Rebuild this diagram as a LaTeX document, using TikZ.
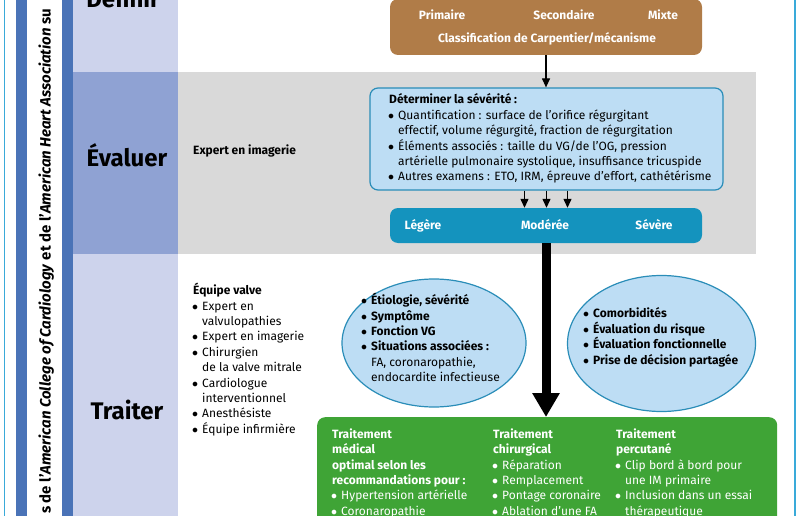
\documentclass[tikz,border=0pt]{standalone}
\usepackage{fontspec}
\setmainfont{Fira Sans}
\usepackage{tikz}
\usetikzlibrary{shapes.geometric, arrows.meta, positioning}
\definecolor{lavlight}{HTML}{CDD3EC}
\definecolor{lavdark}{HTML}{8FA2D3}
\definecolor{barblue}{HTML}{4A73B7}
\definecolor{cyanline}{HTML}{3AAAD9}
\definecolor{grayrow}{HTML}{D9D9D9}
\definecolor{ccbrown}{HTML}{B07C48}
\definecolor{lightblue}{HTML}{BDDDF4}
\definecolor{tealborder}{HTML}{2A8DB8}
\definecolor{tealbar}{HTML}{1493BE}
\definecolor{ccgreen}{HTML}{3FA436}
\newcommand{\bul}{\makebox[9pt][l]{\hspace{-1pt}$\bullet$}}
\newcommand{\ind}{\hspace*{9pt}}
\tikzstyle{phase} = [font=\fontsize{24}{26}\selectfont\bfseries, inner sep=0pt]
\tikzstyle{box} = [rectangle, rounded corners=8pt, minimum width=312pt, inner sep=0pt]
\tikzstyle{wtext} = [text=white, font=\fontsize{12}{15.4}\selectfont\bfseries, inner sep=0pt, anchor=base]
\tikzstyle{btext} = [align=left, anchor=north west, inner sep=0pt, font=\fontsize{12}{15.4}\selectfont]
\tikzstyle{bubble} = [ellipse, draw=tealborder, line width=1.2pt, fill=lightblue, inner sep=0pt]
\tikzstyle{arrow} = [line width=1.2pt, -{Triangle[width=8pt,length=9pt]}]
\tikzstyle{bigarrow} = [line width=9pt, -{Triangle[width=26pt,length=24pt]}]

\begin{document}
\begin{tikzpicture}[x=1pt, y=-1pt, node distance=8pt]
	\useasboundingbox (0,0) rectangle (800,516);
	\clip (0,0) rectangle (800,516);

	\fill[lavlight] (73,0) rectangle (178,516);
	\fill[lavdark] (73,72) rectangle (178,254);
	\fill[grayrow] (178,72) rectangle (756,254);
	\fill[barblue] (16,0) rectangle (27,516);
	\fill[barblue] (62,0) rectangle (73,516);
	\draw[cyanline, line width=1.2pt] (4.5,0) -- (4.5,516);
	\draw[cyanline, line width=1.2pt] (795,0) -- (795,516);

	\node (definir) [phase, anchor=base] at (123,8) {Définir};
	\node (evaluer) [phase] at (127,155) {Évaluer};
	\node (traiter) [phase] at (127,410) {Traiter};
	\node (guideline) [rotate=90, anchor=base west, inner sep=0pt, font=\fontsize{15}{17}\selectfont\bfseries] at (50.5,514) {s de l'\textit{American College of Cardiology} et de l'\textit{American Heart Association} su};

	\node (classif) [box, fill=ccbrown, minimum height=56pt] at (546,27) {};
	\node (primaire) [wtext] at (442,19.5) {Primaire};
	\node (secondaire) [wtext] at (564,19.5) {Secondaire};
	\node (mixte) [wtext] at (663,19.5) {Mixte};
	\node (carpentier) [wtext] at (547,43) {Classification de Carpentier/mécanisme};

	\node (imagerie) [anchor=west, inner sep=0pt, font=\fontsize{12}{15.4}\selectfont\bfseries] at (193,151) {Expert en imagerie};
	\node (severite) [box, draw=tealborder, line width=1.2pt, fill=lightblue, minimum width=353pt, minimum height=102pt] at (546.5,139) {};
	\node (severitetxt) [btext] at (389,93.6) {\textbf{Déterminer la sévérité :}\\
		\bul Quantification : surface de l'orifice régurgitant\\
		\ind effectif, volume régurgité, fraction de régurgitation\\
		\bul Éléments associés : taille du VG/de l'OG, pression\\
		\ind artérielle pulmonaire systolique, insuffisance tricuspide\\
		\bul Autres examens : ETO, IRM, épreuve d'effort, cathétérisme};

	\node (grade) [box, fill=tealbar, minimum height=35pt] at (546,225.5) {};
	\node (legere) [wtext] at (423,229.5) {Légère};
	\node (moderee) [wtext] at (545,229.5) {Modérée};
	\node (severe) [wtext] at (654,229.5) {Sévère};

	\node (equipe) [btext] at (193,283) {\textbf{Équipe valve}\\
		\bul Expert en\\
		\ind valvulopathies\\
		\bul Expert en imagerie\\
		\bul Chirurgien\\
		\ind de la valve mitrale\\
		\bul Cardiologue\\
		\ind interventionnel\\
		\bul Anesthésiste\\
		\bul Équipe infirmière};

	\node (bilan) [bubble, minimum width=184pt, minimum height=128pt] at (434,343) {};
	\node (bilantxt) [btext] at (362,293) {\bul\textbf{Étiologie, sévérité}\\
		\bul\textbf{Symptôme}\\
		\bul\textbf{Fonction VG}\\
		\bul\textbf{Situations associées :}\\
		\ind FA, coronaropathie,\\
		\ind endocardite infectieuse};
	\node (risque) [bubble, minimum width=188pt, minimum height=136pt] at (661.5,343.5) {};
	\node (risquetxt) [btext] at (584,307.6) {\bul\textbf{Comorbidités}\\
		\bul\textbf{Évaluation du risque}\\
		\bul\textbf{Évaluation fonctionnelle}\\
		\bul\textbf{Prise de décision partagée}};

	\node (traitement) [rectangle, rounded corners=8pt, fill=ccgreen, minimum width=460pt, minimum height=120pt, anchor=north west] at (317,417) {};
	\node (medical) [btext, text=white] at (332,428.4) {\textbf{Traitement}\\
		\textbf{médical}\\
		\textbf{optimal selon les}\\
		\textbf{recommandations pour :}\\
		\bul Hypertension artérielle\\
		\bul Coronaropathie};
	\node (chirurgical) [btext, text=white] at (493,428.4) {\textbf{Traitement}\\
		\textbf{chirurgical}\\
		\bul Réparation\\
		\bul Remplacement\\
		\bul Pontage coronaire\\
		\bul Ablation d'une FA};
	\node (percutane) [btext, text=white] at (616,428.4) {\textbf{Traitement}\\
		\textbf{percutané}\\
		\bul Clip bord à bord pour\\
		\ind une IM primaire\\
		\bul Inclusion dans un essai\\
		\ind thérapeutique};

	\draw [arrow] (classif.south) -- (classif.south |- severite.north);
	\foreach \dx in {-22,0,21}
		\draw [arrow] ([xshift=\dx pt]severite.south) -- ([xshift=\dx pt]severite.south |- grade.north);
	\draw [bigarrow] (grade.south) -- (grade.south |- traitement.north);
\end{tikzpicture}
\end{document}
